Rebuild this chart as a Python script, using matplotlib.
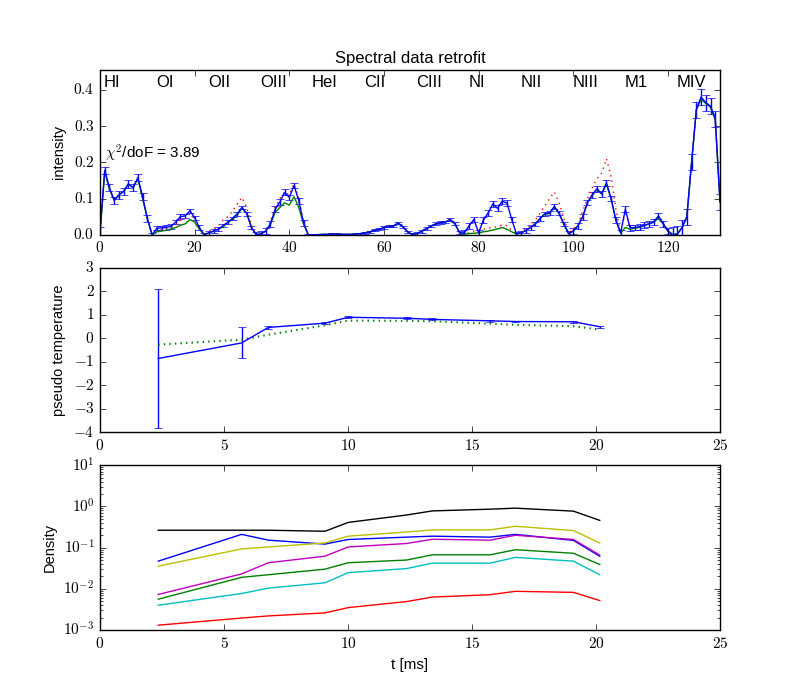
import numpy as np
import matplotlib
matplotlib.use('Agg')
import matplotlib.pyplot as plt
from matplotlib.ticker import FuncFormatter

plt.style.use('classic')
plt.rcParams['font.family'] = ['Liberation Sans', 'DejaVu Sans']
plt.rcParams['mathtext.fontset'] = 'cm'
plt.rcParams['mathtext.default'] = 'rm'

#===============================================================================
# DATA
#===============================================================================
# spectral lines, 11 channels each
lines = ['HI', 'OI', 'OII', 'OIII', 'HeI', 'CII', 'CIII', 'NI', 'NII', 'NIII', 'M1', 'MIV']
chi2_dof = 3.89

# measured intensity (blue, with error bars)
meas = [0.01, 0.178, 0.13, 0.095, 0.11, 0.12, 0.14, 0.13, 0.158, 0.105, 0.045,
        0.0, 0.018, 0.019, 0.02, 0.023, 0.035, 0.05, 0.052, 0.066, 0.047, 0.02,
        0.0, 0.005, 0.01, 0.015, 0.025, 0.035, 0.045, 0.058, 0.075, 0.058, 0.02,
        0.0, 0.002, 0.01, 0.03, 0.07, 0.09, 0.117, 0.103, 0.136, 0.094, 0.033,
        0.0, 0.0, 0.0, 0.001, 0.001, 0.002, 0.002, 0.001, 0.001, 0.001, 0.002,
        0.003, 0.005, 0.008, 0.012, 0.015, 0.02, 0.023, 0.024, 0.032, 0.022, 0.008,
        0.0, 0.003, 0.01, 0.017, 0.024, 0.03, 0.033, 0.035, 0.042, 0.03, 0.005,
        0.005, 0.025, 0.042, 0.005, 0.04, 0.06, 0.085, 0.073, 0.093, 0.087, 0.042,
        0.002, 0.005, 0.012, 0.02, 0.03, 0.045, 0.058, 0.06, 0.078, 0.06, 0.03,
        0.003, 0.01, 0.025, 0.05, 0.089, 0.11, 0.127, 0.113, 0.143, 0.1, 0.04,
        0.005, 0.07, 0.019, 0.02, 0.022, 0.026, 0.03, 0.035, 0.052, 0.03, 0.01,
        0.0, 0.002, 0.02, 0.05, 0.2, 0.345, 0.38, 0.365, 0.355, 0.32, 0.09]
# error per line group
meas_err = [0.01, 0.006, 0.005, 0.008, 0.002, 0.003, 0.004, 0.008, 0.006, 0.008, 0.008, 0.022]

# first guess (red dotted)
guess = [0.0, 0.175, 0.125, 0.095, 0.11, 0.12, 0.14, 0.13, 0.155, 0.1, 0.045,
         0.0, 0.012, 0.014, 0.016, 0.02, 0.028, 0.04, 0.045, 0.058, 0.045, 0.018,
         0.0, 0.01, 0.015, 0.025, 0.04, 0.05, 0.065, 0.085, 0.103, 0.075, 0.025,
         0.0, 0.003, 0.012, 0.035, 0.075, 0.1, 0.118, 0.11, 0.14, 0.1, 0.035,
         0.0, 0.0, 0.0, 0.001, 0.001, 0.002, 0.002, 0.001, 0.001, 0.001, 0.002,
         0.003, 0.005, 0.008, 0.012, 0.015, 0.02, 0.023, 0.024, 0.032, 0.022, 0.008,
         0.0, 0.003, 0.01, 0.017, 0.025, 0.031, 0.034, 0.037, 0.045, 0.03, 0.005,
         0.003, 0.005, 0.01, 0.012, 0.015, 0.018, 0.02, 0.022, 0.027, 0.025, 0.012,
         0.003, 0.008, 0.016, 0.025, 0.04, 0.06, 0.08, 0.1, 0.118, 0.09, 0.045,
         0.005, 0.015, 0.03, 0.065, 0.1, 0.13, 0.155, 0.17, 0.21, 0.16, 0.07,
         0.005, 0.065, 0.019, 0.02, 0.022, 0.026, 0.03, 0.035, 0.05, 0.03, 0.01,
         0.0, 0.002, 0.02, 0.05, 0.2, 0.345, 0.378, 0.365, 0.355, 0.32, 0.09]

# retrofit (green)
fit = [0.0, 0.175, 0.125, 0.095, 0.11, 0.12, 0.14, 0.13, 0.155, 0.1, 0.045,
       0.0, 0.008, 0.01, 0.012, 0.016, 0.02, 0.026, 0.03, 0.042, 0.035, 0.015,
       0.0, 0.005, 0.01, 0.015, 0.022, 0.033, 0.043, 0.055, 0.073, 0.06, 0.02,
       0.0, 0.002, 0.01, 0.028, 0.062, 0.075, 0.088, 0.082, 0.105, 0.075, 0.03,
       0.0, 0.0, 0.0, 0.001, 0.001, 0.002, 0.002, 0.001, 0.001, 0.001, 0.002,
       0.003, 0.005, 0.008, 0.012, 0.015, 0.02, 0.023, 0.024, 0.032, 0.022, 0.008,
       0.0, 0.003, 0.01, 0.017, 0.024, 0.03, 0.033, 0.035, 0.042, 0.03, 0.005,
       0.002, 0.003, 0.004, 0.005, 0.008, 0.01, 0.013, 0.016, 0.02, 0.015, 0.008,
       0.002, 0.005, 0.012, 0.02, 0.03, 0.045, 0.057, 0.058, 0.077, 0.058, 0.028,
       0.003, 0.01, 0.025, 0.05, 0.088, 0.108, 0.125, 0.112, 0.14, 0.098, 0.04,
       0.005, 0.02, 0.015, 0.018, 0.02, 0.025, 0.03, 0.035, 0.045, 0.03, 0.01,
       0.0, 0.002, 0.02, 0.05, 0.2, 0.345, 0.375, 0.362, 0.352, 0.318, 0.09]

# time points [ms]
t = [2.35, 5.71, 6.79, 9.07, 10.01, 12.36, 13.4, 15.73, 16.75, 19.09, 20.15]

# pseudo temperature
temp = [-0.86, -0.2, 0.46, 0.64, 0.89, 0.85, 0.8, 0.74, 0.71, 0.7, 0.49]
temp_err = [2.97, 0.66, 0.05, 0.05, 0.05, 0.04, 0.04, 0.04, 0.04, 0.04, 0.04]
temp_guess = [-0.27, -0.06, 0.15, 0.55, 0.75, 0.74, 0.72, 0.62, 0.57, 0.51, 0.37]

# densities
dens_b = [0.047, 0.21, 0.152, 0.122, 0.158, 0.18, 0.19, 0.18, 0.21, 0.15, 0.062]
dens_g = [0.0056, 0.019, 0.022, 0.030, 0.043, 0.050, 0.067, 0.067, 0.089, 0.073, 0.039]
dens_r = [0.00131, 0.00195, 0.0022, 0.0026, 0.0035, 0.0049, 0.0063, 0.0072, 0.0087, 0.0082, 0.0052]
dens_c = [0.0040, 0.0077, 0.0104, 0.014, 0.0247, 0.031, 0.042, 0.042, 0.058, 0.047, 0.022]
dens_m = [0.0073, 0.023, 0.043, 0.062, 0.104, 0.126, 0.16, 0.152, 0.20, 0.158, 0.066]
dens_y = [0.0356, 0.093, 0.104, 0.13, 0.19, 0.24, 0.27, 0.27, 0.33, 0.26, 0.13]
dens_k = [0.265, 0.265, 0.265, 0.25, 0.41, 0.62, 0.78, 0.86, 0.91, 0.77, 0.46]

#===============================================================================
# PLOT
#===============================================================================
cm_fmt = FuncFormatter(lambda v, p: '$%g$' % v)
cm_fmt1 = FuncFormatter(lambda v, p: '$%.1f$' % v)
log_fmt = FuncFormatter(lambda v, p: '$10^{%d}$' % round(np.log10(v)))

chan = np.arange(len(meas))
err = np.repeat(meas_err, 11)

fig = plt.figure(figsize=(8, 7), dpi=100)

ax1 = plt.subplot(3, 1, 1)
ax1.errorbar(chan, meas, yerr=err, fmt='b-', capsize=3)
ax1.plot(chan, guess, 'r:', linewidth=1.0)
ax1.plot(chan, fit, 'g-')
for i in range(len(lines)):
    ax1.text(11 * i + 0.8, 0.42, lines[i], fontsize=12, va='center', ha='left')
ax1.text(1, 0.196, r'$\mathit{\chi}^2$/doF = %.2f' % chi2_dof, fontsize=11, va='bottom')
ax1.set_xlim(0, 131)
ax1.set_ylim(0, 0.455)
ax1.set_yticks([0.0, 0.1, 0.2, 0.3, 0.4])
ax1.set_title('Spectral data retrofit', fontsize=12)
ax1.set_ylabel('intensity', fontsize=10.5)
ax1.xaxis.set_major_formatter(cm_fmt)
ax1.yaxis.set_major_formatter(cm_fmt1)

ax2 = plt.subplot(3, 1, 2)
ax2.errorbar(t, temp, yerr=temp_err, fmt='b-', capsize=3)
ax2.plot(t, temp_guess, 'g:', linewidth=1.5)
ax2.set_xlim(0, 25)
ax2.set_ylim(-4, 3)
ax2.set_ylabel('pseudo temperature', fontsize=10.5)
ax2.xaxis.set_major_formatter(cm_fmt)
ax2.yaxis.set_major_formatter(cm_fmt)

ax3 = plt.subplot(3, 1, 3)
for d, c in zip([dens_b, dens_g, dens_r, dens_c, dens_m, dens_y, dens_k],
                ['b', 'g', 'r', 'c', 'm', 'y', 'k']):
    ax3.semilogy(t, d, color=c)
ax3.set_xlim(0, 25)
ax3.set_ylim(1e-3, 1e1)
ax3.set_ylabel('Density', fontsize=10.5)
ax3.set_xlabel('t [ms]', fontsize=11)
ax3.xaxis.set_major_formatter(cm_fmt)
ax3.yaxis.set_major_formatter(log_fmt)

for ax in [ax1, ax2, ax3]:
    ax.tick_params(labelsize=11)

plt.savefig('out.png', dpi=100)
